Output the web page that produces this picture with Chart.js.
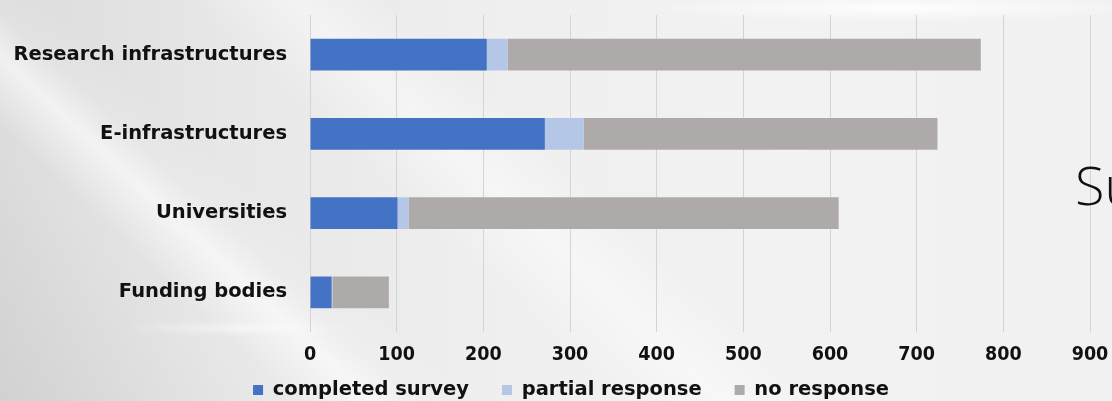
<!DOCTYPE html>
<html>
<head>
<meta charset="utf-8">
<script src="https://cdn.jsdelivr.net/npm/chart.js@4"></script>
<style>
  html, body { margin: 0; padding: 0; }
  body {
    width: 1112px; height: 401px; overflow: hidden; position: relative;
    background:
      radial-gradient(ellipse 120px 8px at 240px 328px, rgba(255,255,255,0.45), rgba(255,255,255,0)),
      radial-gradient(ellipse 260px 14px at 900px 8px, rgba(255,255,255,0.9), rgba(255,255,255,0)),
      linear-gradient(43deg, rgba(255,255,255,0) 19%, rgba(255,255,255,0.6) 24%, rgba(255,255,255,0.15) 27%, rgba(255,255,255,0) 31%),
      linear-gradient(43deg, rgba(255,255,255,0) 40%, rgba(255,255,255,0.45) 47%, rgba(255,255,255,0) 53%),
      linear-gradient(43deg, rgba(0,0,0,0.05) 0%, rgba(0,0,0,0) 18%),
      linear-gradient(90deg, #dcdcdc 0%, #e7e7e7 20%, #efefef 45%, #f2f2f2 70%, #f1f1f1 100%);
  }
  #wrap { position: absolute; left: 0; top: 0; width: 1112px; height: 401px; }
  #side {
    position: absolute; left: 1075px; top: 157px;
    font-family: "Open Sans", sans-serif; font-weight: 300; font-size: 54px;
    color: #111; line-height: 1; white-space: nowrap;
  }
</style>
</head>
<body>
<div id="wrap"><canvas id="chart"></canvas></div>
<div id="side">Su</div>
<script>
// survey response counts per institution type
const categories = ['Research infrastructures', 'E-infrastructures', 'Universities', 'Funding bodies'];
const completedSurvey = [204, 271, 101, 25];
const partialResponse = [24, 45, 13, 1];
const noResponse = [546, 408, 496, 65];
const tickValues = [0, 100, 200, 300, 400, 500, 600, 700, 800, 900];

const FONT = "'DejaVu Sans', sans-serif";
const NUM_FONT = "'DejaVu Sans Condensed', 'DejaVu Sans', sans-serif";
const LEGEND_PAD = 33;
const LEGEND_SIZE = 19.5;

// legend needs wide gaps between items but Chart.js uses the same padding above it,
// so reserve a short box and move the row into place once layout is done
const legendPlace = {
  id: 'legendPlace',
  afterLayout(chart) {
    const lg = chart.legend;
    lg.top = 390 - LEGEND_PAD - LEGEND_SIZE / 2;
    lg.bottom = chart.height;
    lg.height = lg.bottom - lg.top;
    lg.left += 24;
    lg.right += 24;
  }
};

const chart = new Chart(document.getElementById('chart'), {
  type: 'bar',
  data: {
    labels: categories,
    datasets: [
      { label: 'completed survey', data: completedSurvey, backgroundColor: '#4472C4' },
      { label: 'partial response', data: partialResponse, backgroundColor: '#B4C7E7' },
      { label: 'no response', data: noResponse, backgroundColor: '#AEAAAA' }
    ]
  },
  plugins: [legendPlace],
  options: {
    indexAxis: 'y',
    responsive: true,
    maintainAspectRatio: false,
    animation: false,
    devicePixelRatio: 1,
    layout: { padding: { left: 4, right: 22, top: 15, bottom: 0 } },
    datasets: { bar: { barPercentage: 0.4, categoryPercentage: 1, borderWidth: 0 } },
    plugins: {
      tooltip: { enabled: false },
      legend: {
        position: 'bottom',
        maxHeight: 33,
        labels: {
          color: '#111',
          font: { family: FONT, size: LEGEND_SIZE, weight: 'bold' },
          boxWidth: 10, boxHeight: 10, padding: LEGEND_PAD
        }
      }
    },
    scales: {
      x: {
        stacked: true,
        min: 0, max: 900,
        afterBuildTicks: (scale) => { scale.ticks = tickValues.map(v => ({ value: v })); },
        afterFit: (scale) => { scale.height = 36; scale.paddingLeft = 0; scale.paddingRight = 0; },
        grid: { color: '#d4d4d4', lineWidth: 1, drawTicks: false },
        border: { display: false },
        ticks: { color: '#111', font: { family: NUM_FONT, size: 19.5, weight: 'bold' }, padding: 11, maxRotation: 0 }
      },
      y: {
        stacked: true,
        afterFit: (scale) => { scale.width = 306; scale.paddingTop = 0; scale.paddingBottom = 0; },
        grid: { display: false, drawTicks: false },
        border: { display: false },
        ticks: { color: '#111', font: { family: FONT, size: 19.5, weight: 'bold' }, padding: 23 }
      }
    }
  }
});
</script>
</body>
</html>
